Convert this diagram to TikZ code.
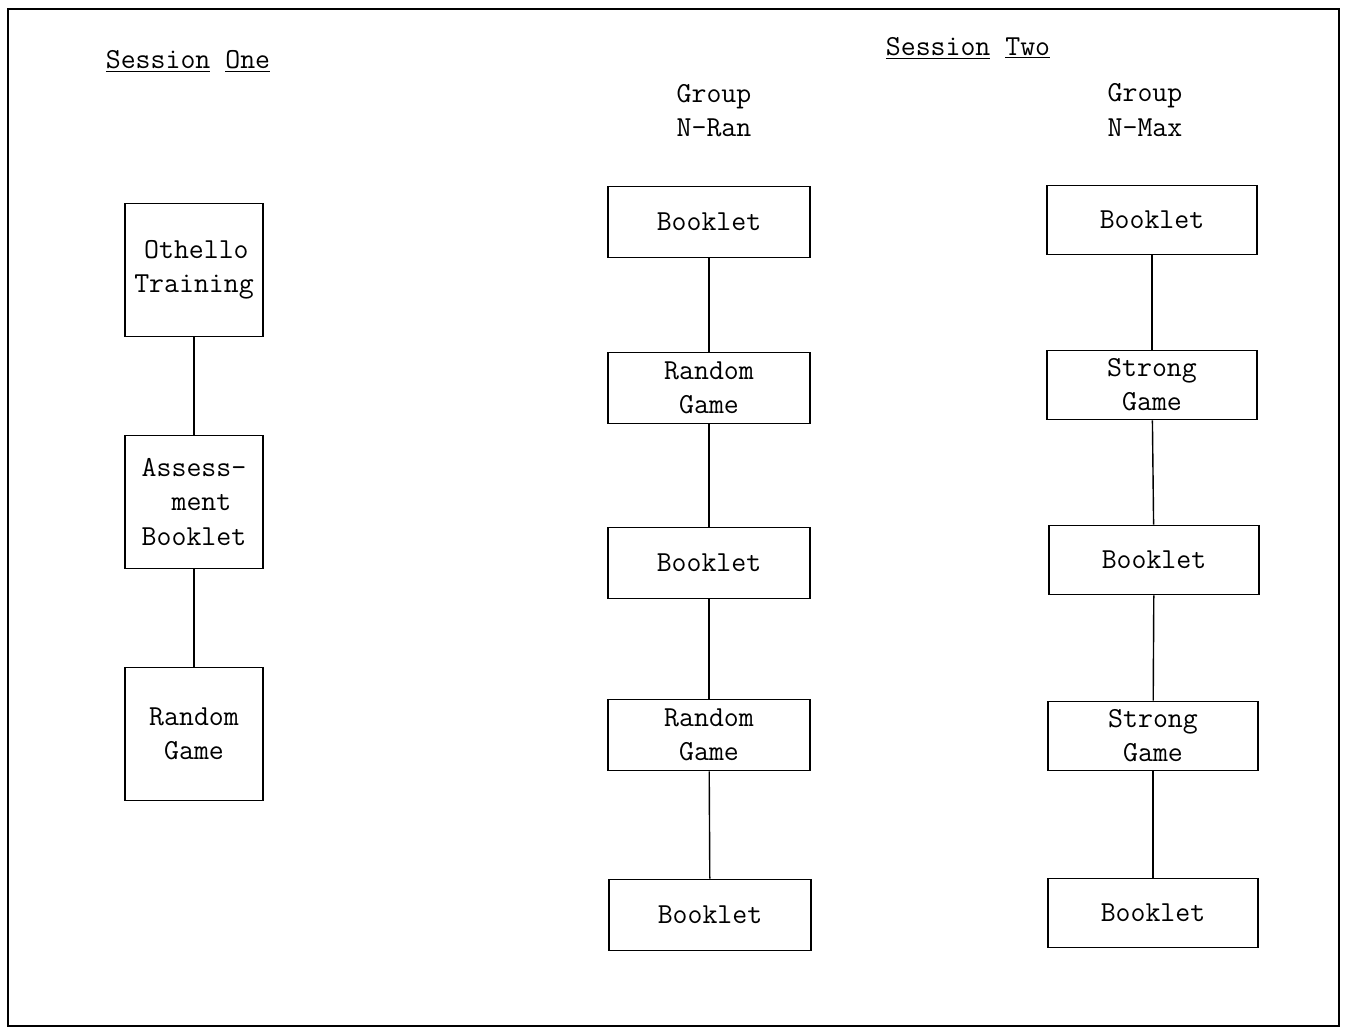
\documentclass[tikz,border=0pt]{standalone}
\usetikzlibrary{positioning}

\tikzset{
  stagebox/.style={draw, line width=1.1pt, inner sep=0pt, align=center,
    font=\ttfamily\fontsize{16.5}{19.5}\selectfont},
  tallbox/.style={stagebox, minimum width=2.76cm, minimum height=2.66cm},
  flatbox/.style={stagebox, minimum width=4.04cm, minimum height=1.42cm},
  headtext/.style={align=center, font=\ttfamily\fontsize{16.5}{19.5}\selectfont},
  link/.style={line width=0.8pt}
}

\begin{document}
\begin{tikzpicture}[x=0.02cm, y=-0.02cm] % one unit = one reference pixel
            \useasboundingbox (0,0) rectangle (1349,1030);
            % Frame
            \draw[line width=1.1pt] (8,9) rectangle (1339,1026);

            % Headings
            \node[headtext] (s1) at (188,61) {\underline{Session} \underline{One}};
            \node[headtext] (s2) at (968,48) {\underline{Session} \underline{Two}};
            \node[headtext] (gran) at (714,111) {Group\\N-Ran};
            \node[headtext] (gmax) at (1145,110) {Group\\N-Max};

            % Session one
            \node[tallbox] (train) at (194,270) {\,Othello\\Training};
            \node[tallbox] (assess) at (194,502) {Assess-\\\ ment\\Booklet};
            \node[tallbox] (rgame) at (194,734) {Random\\Game};

            \draw[link] (train) -- (assess);
            \draw[link] (assess) -- (rgame);

            % Group N-Ran
            \node[flatbox] (ranA) at (709,222) {Booklet};
            \node[flatbox] (ranB) at (709,388) {Random\\Game};
            \node[flatbox] (ranC) at (709,563) {Booklet};
            \node[flatbox] (ranD) at (709,735) {Random\\Game};
            \node[flatbox] (ranE) at (710,915) {Booklet};

            \foreach \a/\b in {ranA/ranB, ranB/ranC, ranC/ranD, ranD/ranE}
              \draw[link] (\a) -- (\b);

            % Group N-Max
            \node[flatbox, minimum width=4.2cm, minimum height=1.38cm] (maxA) at (1152,220) {Booklet};
            \node[flatbox, minimum width=4.2cm, minimum height=1.38cm] (maxB) at (1152,385) {Strong\\Game};
            \node[flatbox, minimum width=4.2cm, minimum height=1.38cm] (maxC) at (1154,560) {Booklet};
            \node[flatbox, minimum width=4.2cm, minimum height=1.38cm] (maxD) at (1153,736) {Strong\\Game};
            \node[flatbox, minimum width=4.2cm, minimum height=1.38cm] (maxE) at (1153,913) {Booklet};

            \foreach \a/\b in {maxA/maxB, maxB/maxC, maxC/maxD, maxD/maxE}
              \draw[link] (\a) -- (\b);
        \end{tikzpicture}
\end{document}
